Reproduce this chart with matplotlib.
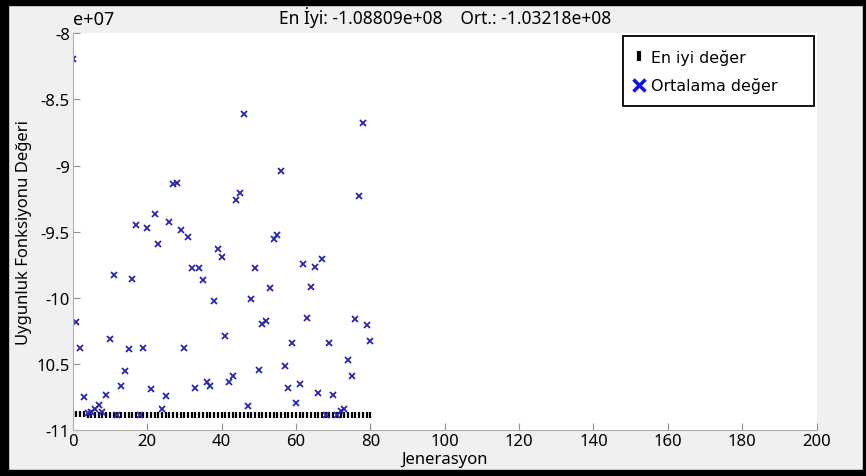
import matplotlib.pyplot as plt
from matplotlib.lines import Line2D
from matplotlib.patches import Rectangle
import numpy as np

# degerler 1e7 biriminde
generations = list(range(0, 81))
mean_vals = [-8.196, -10.18, -10.375, -10.745, -10.87, -10.86, -10.84, -10.81, -10.86, -10.735,
             -10.313, -9.825, -10.88, -10.667, -10.554, -10.388, -9.855, -9.448, -10.88, -10.375,
             -9.47, -10.687, -9.367, -9.59, -10.84, -10.74, -9.423, -9.139, -9.129, -9.49,
             -10.375, -9.538, -9.775, -10.677, -9.775, -9.865, -10.634, -10.664, -10.02, -9.629,
             -9.687, -10.29, -10.634, -10.59, -9.26, -9.21, -8.61, -10.815, -10.01, -9.775,
             -10.547, -10.2, -10.172, -9.923, -9.553, -9.523, -9.043, -10.51, -10.677, -10.338,
             -10.79, -10.65, -9.74, -10.15, -9.918, -9.765, -10.72, -9.707, -10.88, -10.343,
             -10.735, -10.88, -10.85, -10.835, -10.468, -10.587, -10.157, -9.232, -8.68, -10.207,
             -10.323]
best_vals = [-10.875] * 4 + [-10.8809] * 77

x_ticks = [0, 20, 40, 60, 80, 100, 120, 140, 160, 180, 200]
y_ticks = [-8, -8.5, -9, -9.5, -10, -10.5, -11]
y_tick_labels = ['-8', '-8.5', '-9', '-9.5', '-10', '10.5', '-11']
scale = 1e7

plt.rcParams['font.family'] = ['Noto Sans', 'DejaVu Sans']

fig = plt.figure(figsize=(8.66, 4.77), dpi=100, facecolor='#f0f0f0')
ax = fig.add_axes([0.084, 0.0954, 0.859, 0.8333])
ax.set_facecolor('white')

blue = '#2626b2'
ax.plot(generations, np.array(best_vals) * scale, linestyle='none', marker='|',
        markersize=4, markeredgewidth=1.6, color='black')
ax.plot(generations, np.array(mean_vals) * scale, linestyle='none', marker='x',
        markersize=4.3, markeredgewidth=1.3, color=blue)

ax.set_xlim(0, 200)
ax.set_ylim(-11 * scale, -8 * scale)
ax.set_xticks(x_ticks)
ax.set_yticks([v * scale for v in y_ticks])
ax.set_yticklabels(y_tick_labels)
ax.tick_params(direction='in', length=5, color='#909090', labelsize=12, pad=2)
for s in ['top', 'right']:
    ax.spines[s].set_visible(False)
for s in ['left', 'bottom']:
    ax.spines[s].set_color('#b0b0b0')

ax.text(0.0, 1.012, 'e+07', transform=ax.transAxes, fontsize=13,
        ha='left', va='bottom')
ax.set_title('En İyi: -1.08809e+08    Ort.: -1.03218e+08', fontsize=12.5, pad=7)
ax.set_xlabel('Jenerasyon', fontsize=12, labelpad=1)
ax.set_ylabel('Uygunluk Fonksiyonu Değeri', fontsize=12, labelpad=3)

handles = [Line2D([], [], linestyle='none', marker='|', markersize=7, markeredgewidth=3, color='black'),
           Line2D([], [], linestyle='none', marker='x', markersize=9, markeredgewidth=2.5, color='#1010e0')]
leg = ax.legend(handles, ['En iyi değer', 'Ortalama değer'], loc='upper left',
                bbox_to_anchor=(0.7397, 0.8113, 0.2567, 0.1812), mode='expand',
                borderaxespad=0, fancybox=False, edgecolor='black',
                framealpha=1, handlelength=0.4, handletextpad=0.55, borderpad=0.8,
                labelspacing=0.8, prop={'family': 'DejaVu Sans', 'size': 11.4})
leg.get_frame().set_linewidth(1.3)

# siyah cerceve
fig.patches.append(Rectangle((0, 0), 8 / 866, 1, transform=fig.transFigure, color='black', zorder=10))
fig.patches.append(Rectangle((0, 1 - 6 / 477), 1, 6 / 477, transform=fig.transFigure, color='black', zorder=10))
fig.patches.append(Rectangle((0, 0), 1, 6 / 477, transform=fig.transFigure, color='black', zorder=10))
fig.patches.append(Rectangle((1 - 3 / 866, 0), 3 / 866, 1, transform=fig.transFigure, color='black', zorder=10))

fig.savefig('out.png', dpi=100, facecolor=fig.get_facecolor())
